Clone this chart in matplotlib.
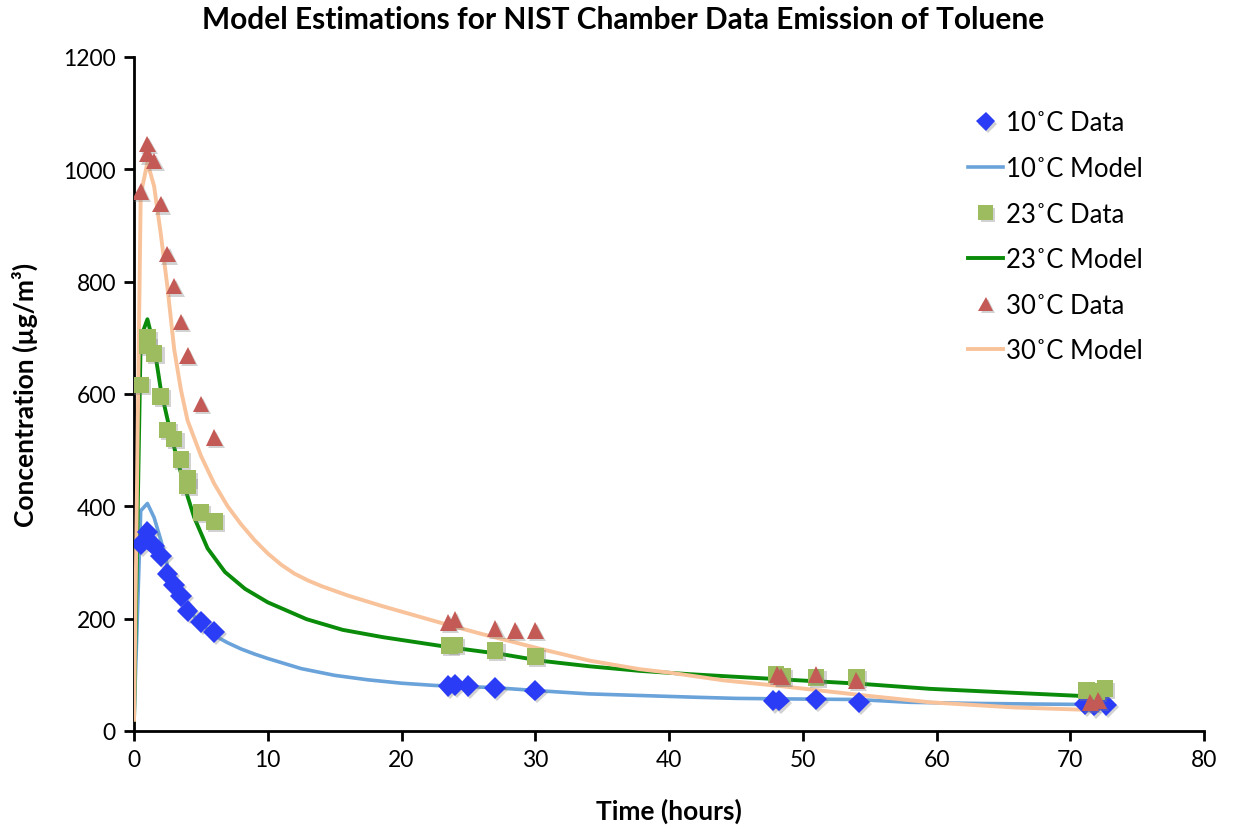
import matplotlib
matplotlib.use("Agg")
import matplotlib.pyplot as plt
import matplotlib.patheffects as pe

plt.rcParams['font.family'] = ['Lato', 'DejaVu Sans']

# ---- data ----
t10_data = [0.5, 1.0, 1.5, 2.0, 2.5, 3.0, 3.5, 4.0, 5.0, 6.0,
            23.5, 24.0, 25.0, 27.0, 30.0, 47.8, 48.2, 51.0, 54.2, 71.1, 71.8, 72.7]
v10_data = [333, 354, 330, 311, 280, 260, 240, 214, 194, 176,
            80, 82, 80, 76, 72, 54, 54, 56, 51, 48, 45, 46]

t23_data = [0.5, 1.0, 1.0, 1.5, 2.0, 2.5, 3.0, 3.5, 4.0, 4.0, 5.0, 6.0,
            23.6, 24.0, 27.0, 30.0, 48.0, 48.5, 51.0, 54.0, 71.2, 72.0, 72.6]
v23_data = [616, 700, 686, 672, 596, 536, 520, 483, 449, 437, 389, 373,
            152, 153, 143, 133, 100, 97, 95, 95, 72, 70, 75]

t30_data = [0.5, 1.0, 1.0, 1.5, 2.0, 2.5, 3.0, 3.5, 4.0, 5.0, 6.0,
            23.5, 24.0, 27.0, 28.5, 30.0, 48.1, 48.4, 51.0, 54.0, 71.5, 72.1]
v30_data = [961, 1045, 1027, 1015, 938, 849, 792, 728, 668, 582, 522,
            193, 199, 183, 179, 179, 101, 97, 101, 90, 51, 54]

t10_model = [0, 0.5, 1.0, 1.5, 2.0, 2.5, 3.0, 3.5, 4.0, 5.0, 6.0, 7.0, 8.0, 9.0, 10.0,
             12.5, 15.0, 17.5, 20.0, 22.5, 25.0, 27.0, 30.0, 34.0, 38.0, 42.0, 45.0,
             49.0, 54.0, 58.0, 63.0, 67.0, 72.0]
v10_model = [20, 392, 405, 380, 340, 295, 262, 238, 216, 192, 170, 157, 146, 137, 129,
             111, 99, 91, 85, 81, 79, 77, 72, 66, 63, 60, 58,
             57, 56, 51, 49, 48, 47]

t23_model = [0, 0.5, 1.0, 1.5, 2.0, 2.5, 3.0, 3.5, 4.0, 4.5, 5.5, 6.8, 8.3, 10.0,
             12.9, 15.6, 18.6, 21.1, 23.6, 27.4, 30.4, 34.1, 37.8, 41.6, 45.3, 48.3,
             54.3, 59.5, 65.7, 72.0]
v23_model = [20, 700, 733, 685, 608, 555, 505, 460, 418, 380, 325, 283, 253, 229,
             199, 180, 167, 158, 149, 137, 125, 115, 107, 101, 96, 92,
             84, 75, 68, 61]

t30_model = [0, 0.5, 1.0, 1.5, 2.0, 2.5, 3.0, 3.5, 4.0, 5.0, 6.0, 7.0, 8.0, 9.0, 10.0,
             11.0, 12.0, 13.0, 14.0, 16.0, 18.6, 21.1, 23.6, 26.1, 30.4, 34.1, 37.8,
             40.3, 44.1, 48.3, 54.3, 59.5, 65.7, 72.0]
v30_model = [20, 955, 1012, 970, 885, 790, 680, 608, 553, 490, 440, 400, 368, 340, 316,
             296, 280, 268, 258, 241, 222, 205, 188, 172, 146, 125, 110,
             103, 90, 80, 64, 51, 42, 37]

labels = ['10˚C Data', '10˚C Model', '23˚C Data', '23˚C Model', '30˚C Data', '30˚C Model']

x_ticks = [0, 10, 20, 30, 40, 50, 60, 70, 80]
y_ticks = [0, 200, 400, 600, 800, 1000, 1200]

# ---- figure ----
fig = plt.figure(figsize=(12.33, 8.28), dpi=100)
ax = fig.add_axes([0.1087, 0.116, 0.8678, 0.814])

shadow = [pe.SimplePatchShadow(offset=(1.5, -1.5), alpha=0.35, shadow_rgbFace='gray'), pe.Normal()]

h1, = ax.plot(t10_data, v10_data, linestyle='none', marker='D', markersize=11,
              color='#2b3cf6', markeredgewidth=0, path_effects=shadow, zorder=4)
h2, = ax.plot(t10_model, v10_model, color='#6aa2da', linewidth=2.6, zorder=3)
h3, = ax.plot(t23_data, v23_data, linestyle='none', marker='s', markersize=12,
              color='#9dbb5f', markeredgewidth=0, path_effects=shadow, zorder=4)
h4, = ax.plot(t23_model, v23_model, color='#0a8c0a', linewidth=2.8, zorder=3)
h5, = ax.plot(t30_data, v30_data, linestyle='none', marker='^', markersize=12,
              color='#c45a55', markeredgewidth=0, path_effects=shadow, zorder=4)
h6, = ax.plot(t30_model, v30_model, color='#f8c29a', linewidth=2.8, zorder=3)

ax.set_xlim(0, 80)
ax.set_ylim(0, 1200)
ax.set_xticks(x_ticks)
ax.set_yticks(y_ticks)
ax.tick_params(axis='both', direction='out', length=7, width=2, labelsize=16.5, pad=6)

for s in ['top', 'right']:
    ax.spines[s].set_visible(False)
for s in ['left', 'bottom']:
    ax.spines[s].set_linewidth(2)

ax.set_xlabel('Time (hours)', fontsize=19, fontweight='bold', labelpad=20)
ax.set_ylabel('Concentration (µg/m³)', fontsize=19, fontweight='bold', labelpad=18)
fig.suptitle('Model Estimations for NIST Chamber Data Emission of Toluene',
             fontsize=21.5, fontweight='bold', x=0.505, y=0.993)

leg_handles = [h1, h2, h3, h4, h5, h6]
leg = ax.legend(leg_handles, labels, loc='upper left', bbox_to_anchor=(0.758, 0.955),
                frameon=False, fontsize=18.5, handlelength=1.35, handletextpad=0.12,
                labelspacing=0.8, markerscale=0.85)

fig.savefig('out.png', dpi=100)
